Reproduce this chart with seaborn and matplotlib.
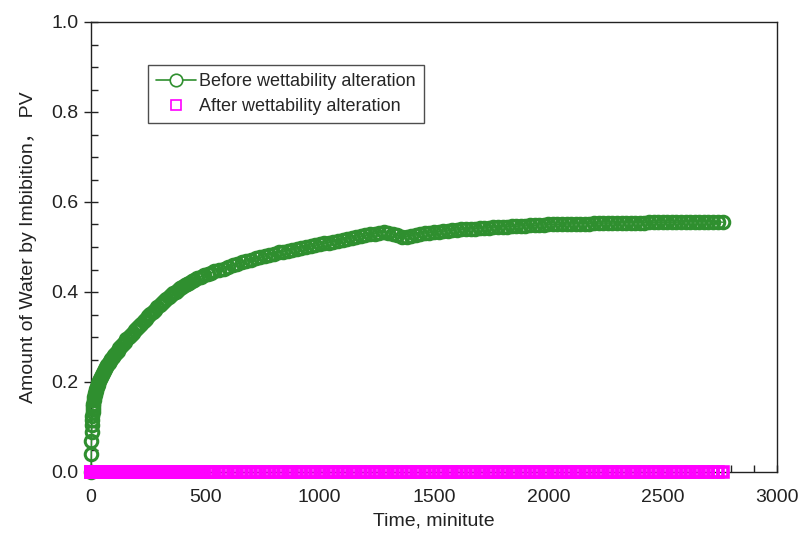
import matplotlib
matplotlib.use("Agg")
import matplotlib.pyplot as plt
import seaborn as sns
import pandas as pd
from matplotlib.ticker import MultipleLocator
from matplotlib.lines import Line2D

# ---- data: (time in minutes, water in PV) ----
before_points = [
    (0, 0.0), (1, 0.04), (2, 0.07), (3, 0.09), (4, 0.105), (5, 0.115), (6, 0.125),
    (7, 0.133), (8, 0.14), (9, 0.146), (10, 0.152), (12, 0.16), (14, 0.166), (16, 0.171),
    (18, 0.176), (20, 0.18), (23, 0.185), (26, 0.19), (29, 0.194), (32, 0.198), (35, 0.202),
    (39, 0.206), (43, 0.211), (47, 0.215), (51, 0.219), (56, 0.224), (61, 0.229), (66, 0.233),
    (71, 0.237), (77, 0.242), (83, 0.247), (89, 0.251), (95, 0.255), (102, 0.26), (109, 0.265),
    (116, 0.27), (123, 0.275), (131, 0.28), (139, 0.285), (147, 0.29), (155, 0.295),
    (164, 0.30), (173, 0.305), (182, 0.31), (191, 0.315), (200, 0.32), (210, 0.325),
    (220, 0.33), (230, 0.336), (240, 0.341), (250, 0.346), (260, 0.351), (270, 0.356),
    (280, 0.361), (290, 0.366), (300, 0.371), (310, 0.375), (320, 0.38), (330, 0.384),
    (340, 0.389), (350, 0.393), (360, 0.397), (370, 0.401), (380, 0.405), (390, 0.409),
    (400, 0.412), (410, 0.415), (420, 0.418), (430, 0.421), (440, 0.424), (450, 0.427),
    (465, 0.431), (480, 0.434), (495, 0.437), (510, 0.440), (525, 0.443), (540, 0.446),
    (560, 0.449), (580, 0.452), (600, 0.456), (620, 0.459), (640, 0.463), (660, 0.466),
    (680, 0.469), (700, 0.472), (720, 0.475), (740, 0.477), (760, 0.480), (780, 0.483),
    (800, 0.485), (820, 0.488), (840, 0.490), (860, 0.492), (880, 0.494), (900, 0.496),
    (920, 0.498), (940, 0.500), (960, 0.502), (980, 0.504), (1000, 0.506), (1020, 0.508),
    (1040, 0.510), (1060, 0.512), (1080, 0.514), (1100, 0.516), (1120, 0.518),
    (1140, 0.520), (1160, 0.522), (1180, 0.524), (1200, 0.526), (1220, 0.528),
    (1240, 0.530), (1260, 0.532), (1280, 0.533), (1300, 0.532), (1320, 0.529),
    (1340, 0.526), (1360, 0.523), (1380, 0.523), (1400, 0.525), (1420, 0.527),
    (1440, 0.529), (1460, 0.531), (1480, 0.532), (1500, 0.533), (1520, 0.534),
    (1540, 0.535), (1560, 0.536), (1580, 0.537), (1600, 0.538), (1620, 0.539),
    (1640, 0.540), (1660, 0.540), (1680, 0.541), (1700, 0.542), (1720, 0.542),
    (1740, 0.543), (1760, 0.544), (1780, 0.544), (1800, 0.545), (1820, 0.545),
    (1840, 0.546), (1860, 0.546), (1880, 0.547), (1900, 0.547), (1920, 0.548),
    (1940, 0.548), (1960, 0.549), (1980, 0.549), (2000, 0.550), (2020, 0.550),
    (2040, 0.550), (2060, 0.551), (2080, 0.551), (2100, 0.551), (2120, 0.552),
    (2140, 0.552), (2160, 0.552), (2180, 0.552), (2200, 0.553), (2220, 0.553),
    (2240, 0.553), (2260, 0.553), (2280, 0.553), (2300, 0.554), (2320, 0.554),
    (2340, 0.554), (2360, 0.554), (2380, 0.554), (2400, 0.554), (2420, 0.554),
    (2440, 0.555), (2460, 0.555), (2480, 0.555), (2500, 0.555), (2520, 0.555),
    (2540, 0.555), (2560, 0.555), (2580, 0.556), (2600, 0.556), (2620, 0.556),
    (2640, 0.556), (2660, 0.556), (2680, 0.556), (2700, 0.556), (2720, 0.556),
    (2740, 0.556), (2765, 0.555),
]
time_before = [p[0] for p in before_points]
water_before = [p[1] for p in before_points]
time_after = list(time_before)
water_after = [0.0] * len(time_after)

label_before = "Before wettability alteration"
label_after = "After wettability alteration"
x_label = "Time, minitute"
y_label = "Amount of Water by Imbibition\uff0c PV"
x_ticks = [0, 500, 1000, 1500, 2000, 2500, 3000]
y_ticks = [0.0, 0.2, 0.4, 0.6, 0.8, 1.0]

green = "#2f8f2f"
magenta = "#ff00ff"

sns.set_style("ticks")
plt.rcParams["font.family"] = ["Liberation Sans", "Noto Sans CJK SC", "DejaVu Sans"]

fig = plt.figure(figsize=(8.04, 5.49), dpi=100)
ax = fig.add_axes([91 / 804, 1 - 472 / 549, (777 - 91) / 804, (472 - 22) / 549])

df_b = pd.DataFrame({"t": time_before, "w": water_before})
df_a = pd.DataFrame({"t": time_after, "w": water_after})

sns.lineplot(data=df_b, x="t", y="w", ax=ax, color=green, lw=1.0, marker="o",
             markersize=9, markerfacecolor="none", markeredgecolor=green,
             markeredgewidth=2.2, clip_on=False, estimator=None, sort=False, zorder=3)
sns.lineplot(data=df_a, x="t", y="w", ax=ax, color=magenta, linestyle="none", marker="s",
             markersize=7, markerfacecolor="none", markeredgecolor=magenta,
             markeredgewidth=2.6, clip_on=False, estimator=None, sort=False, zorder=4)

ax.set_xlim(0, 3000)
ax.set_ylim(0, 1.0)
ax.set_xticks(x_ticks)
ax.set_yticks(y_ticks)
ax.set_yticklabels([f"{v:.1f}" for v in y_ticks])
ax.xaxis.set_minor_locator(MultipleLocator(100))
ax.yaxis.set_minor_locator(MultipleLocator(0.05))

for s in ["top", "right", "left", "bottom"]:
    ax.spines[s].set_visible(True)
    ax.spines[s].set_color("#222222")
    ax.spines[s].set_linewidth(1.0)

ax.tick_params(axis="y", which="major", direction="inout", length=10, width=1,
               labelsize=14, colors="#222222", pad=4)
ax.tick_params(axis="y", which="minor", direction="in", length=5, width=1, colors="#222222")
ax.tick_params(axis="x", which="major", direction="in", length=5, width=1,
               labelsize=14, colors="#222222", pad=12)
ax.tick_params(axis="x", which="minor", direction="in", length=5, width=1, colors="#222222")
ax.tick_params(top=False, right=False, which="both")

ax.set_xlabel(x_label, fontsize=14, color="#222222", labelpad=5)
ax.set_ylabel(y_label, fontsize=14, color="#222222", labelpad=10)

handles = [
    Line2D([], [], color=green, lw=1.2, marker="o", markersize=9, markerfacecolor="white",
           markeredgecolor=green, markeredgewidth=1.2),
    Line2D([], [], color=magenta, linestyle="none", marker="s", markersize=6.5,
           markerfacecolor="white", markeredgecolor=magenta, markeredgewidth=1.2),
]
leg = ax.legend(handles, [label_before, label_after], loc="upper left",
                bbox_to_anchor=((148 - 91) / 686, 1 - (65 - 22) / 450), borderaxespad=0,
                fontsize=13, frameon=True, fancybox=False, edgecolor="#222222",
                handlelength=2.2, handletextpad=0.2, borderpad=0.45, labelspacing=0.45)
leg.get_frame().set_linewidth(1.0)

fig.savefig("out.png", dpi=100)
